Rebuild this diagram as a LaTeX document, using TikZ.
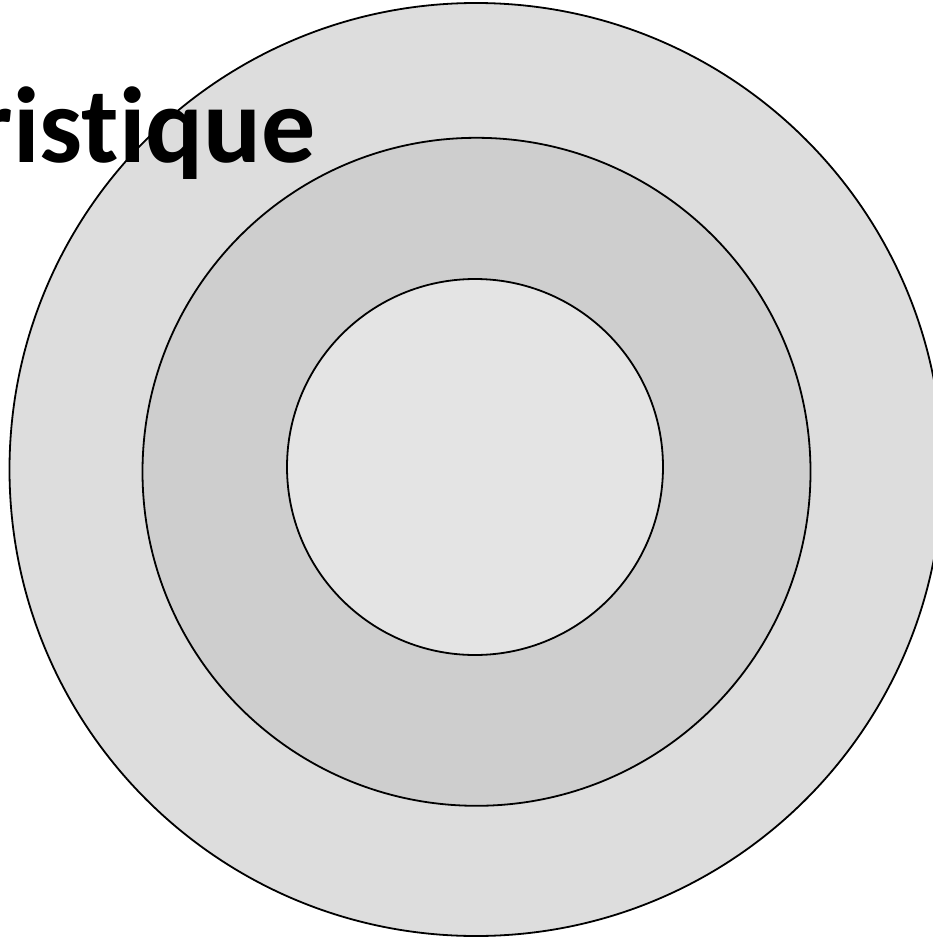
\documentclass[tikz,border=0pt]{standalone}
\usepackage{fontspec}
\setmainfont[Ligatures=NoCommon]{Carlito}
\definecolor{outerfill}{RGB}{221,221,221}
\definecolor{midfill}{RGB}{206,206,206}
\definecolor{innerfill}{RGB}{228,228,228}
\begin{document}
\begin{tikzpicture}[x=1pt,y=-1pt,
  ring/.style={draw=black,line width=1.8pt}]
\useasboundingbox (0,0) rectangle (932,940);
\fill[white] (0,0) rectangle (932,940);
\filldraw[ring,fill=outerfill] (476,469.5) circle[radius=466.5];
\filldraw[ring,fill=midfill] (476.5,471.8) circle[radius=334];
\filldraw[ring,fill=innerfill] (475,467) circle[radius=188];
\node[anchor=base east,inner sep=0pt,font=\bfseries\fontsize{108}{108}\selectfont] (title) at (316,162) {rist\kern0pt ique};
\end{tikzpicture}
\end{document}
